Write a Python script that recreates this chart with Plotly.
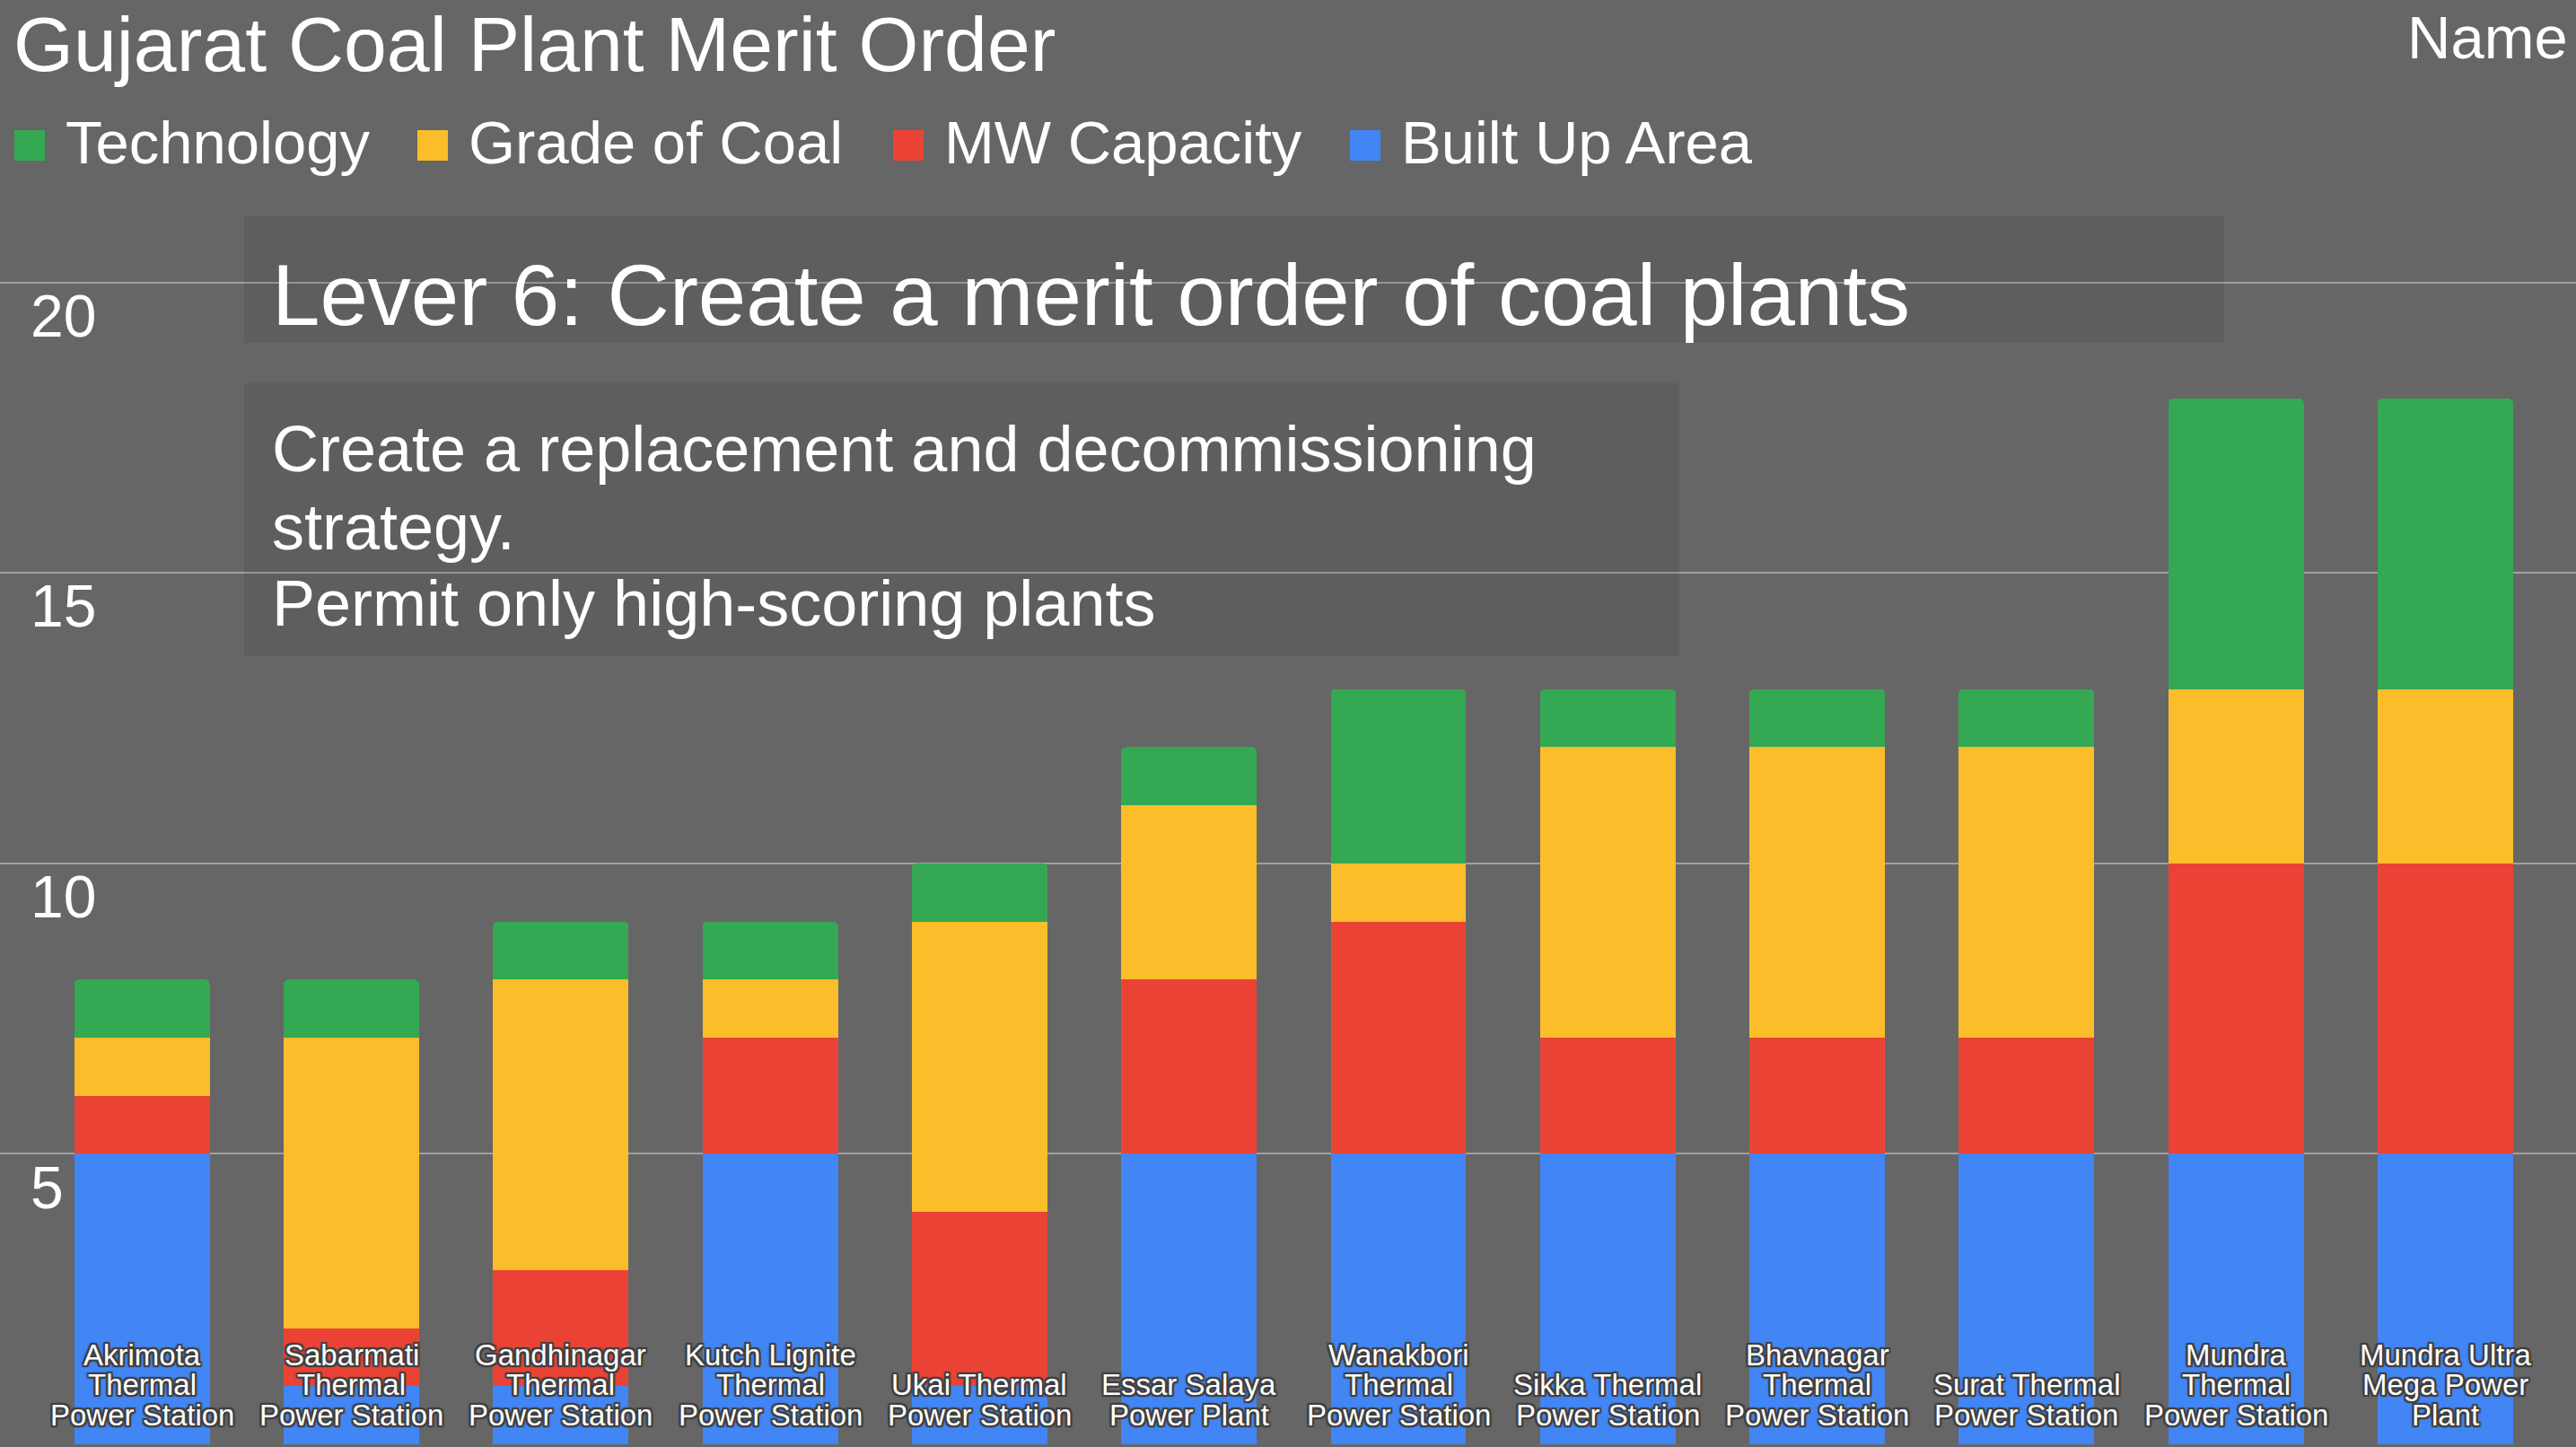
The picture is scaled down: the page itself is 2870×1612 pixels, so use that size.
import plotly.graph_objects as go

# ---------------- data ----------------
plants = [
    "Akrimota Thermal Power Station",
    "Sabarmati Thermal Power Station",
    "Gandhinagar Thermal Power Station",
    "Kutch Lignite Thermal Power Station",
    "Ukai Thermal Power Station",
    "Essar Salaya Power Plant",
    "Wanakbori Thermal Power Station",
    "Sikka Thermal Power Station",
    "Bhavnagar Thermal Power Station",
    "Surat Thermal Power Station",
    "Mundra Thermal Power Station",
    "Mundra Ultra Mega Power Plant",
]
plant_label_lines = [
    ["Akrimota", "Thermal", "Power Station"],
    ["Sabarmati", "Thermal", "Power Station"],
    ["Gandhinagar", "Thermal", "Power Station"],
    ["Kutch Lignite", "Thermal", "Power Station"],
    ["Ukai Thermal", "Power Station"],
    ["Essar Salaya", "Power Plant"],
    ["Wanakbori", "Thermal", "Power Station"],
    ["Sikka Thermal", "Power Station"],
    ["Bhavnagar", "Thermal", "Power Station"],
    ["Surat Thermal", "Power Station"],
    ["Mundra", "Thermal", "Power Station"],
    ["Mundra Ultra", "Mega Power", "Plant"],
]
built_up_area = [5, 1, 1, 5, 1, 5, 5, 5, 5, 5, 5, 5]
mw_capacity   = [1, 1, 2, 2, 3, 3, 4, 2, 2, 2, 5, 5]
grade_of_coal = [1, 5, 5, 1, 5, 3, 1, 5, 5, 5, 3, 3]
technology    = [1, 1, 1, 1, 1, 1, 3, 1, 1, 1, 5, 5]

series_names = ["Built Up Area", "MW Capacity", "Grade of Coal", "Technology"]
series_values = [built_up_area, mw_capacity, grade_of_coal, technology]
series_colors = ["#4285F4", "#EA4335", "#FBBD29", "#34A853"]

y_ticks = [5, 10, 15, 20]

title_text = "Gujarat Coal Plant Merit Order"
axis_name = "Name"
box1_text = "Lever 6: Create a merit order of coal plants"
box2_lines = ["Create a replacement and decommissioning", "strategy.",
              "Permit only high-scoring plants"]

# ---------------- layout constants ----------------
W, H = 2870, 1612
M_TOP = 240
PLOT_H = H - M_TOP
FONT = "Arial, Liberation Sans, Helvetica, sans-serif"
BG = "#666666"


def px_x(px):
    return px / W


def px_y(py):
    return (H - py) / PLOT_H


fig = go.Figure()
for name, vals, col in zip(series_names, series_values, series_colors):
    fig.add_trace(go.Bar(
        x=plants, y=vals, name=name,
        marker=dict(color=col, line=dict(width=0)),
        showlegend=False,
        hovertemplate="%{x}<br>" + name + ": %{y}<extra></extra>",
    ))

annotations = []
shapes = []

# category labels (one annotation per line for tight line spacing)
LABEL_SIZE = 33
LINE_STEP = 33.5
LAST_BASELINE = 1588
label_shadow = ("2px 0 1px #404040, -2px 0 1px #404040, 0 2px 1px #404040, "
                "0 -2px 1px #404040, 2px 2px 1px #404040, -2px -2px 1px #404040, "
                "2px -2px 1px #404040, -2px 2px 1px #404040")
for plant, lines in zip(plants, plant_label_lines):
    n = len(lines)
    for i, line in enumerate(lines):
        baseline = LAST_BASELINE - (n - 1 - i) * LINE_STEP
        annotations.append(dict(
            x=plant, xref="x", y=px_y(baseline - 0.35 * LABEL_SIZE), yref="paper",
            text=line, showarrow=False, xanchor="center", yanchor="middle",
            font=dict(family=FONT, size=LABEL_SIZE, color="white", shadow=label_shadow),
        ))

# custom legend (Technology, Grade of Coal, MW Capacity, Built Up Area)
LEG_SIZE = 67
leg_square_x = [16, 465, 995, 1504]
leg_text_gap = 22
for k, idx in enumerate([3, 2, 1, 0]):
    sx = leg_square_x[k]
    shapes.append(dict(
        type="rect", xref="paper", yref="paper",
        x0=px_x(sx), x1=px_x(sx + 34), y0=px_y(179), y1=px_y(145),
        fillcolor=series_colors[idx], line=dict(width=0), layer="above",
    ))
    annotations.append(dict(
        x=px_x(sx + 34 + leg_text_gap - 1), y=px_y(182 - 0.35 * LEG_SIZE),
        xref="paper", yref="paper", text=series_names[idx], showarrow=False,
        xanchor="left", yanchor="middle",
        font=dict(family=FONT, size=LEG_SIZE, color="white"),
    ))

# "Name" at top right
annotations.append(dict(
    x=px_x(2863), y=px_y(65 - 0.35 * LEG_SIZE), xref="paper", yref="paper",
    text=axis_name, showarrow=False, xanchor="right", yanchor="middle",
    font=dict(family=FONT, size=LEG_SIZE, color="white"),
))

# overlay boxes
box_fill = "rgba(0,0,0,0.07)"
shapes.append(dict(type="rect", xref="paper", yref="paper",
                   x0=px_x(272), x1=px_x(2478), y0=px_y(382), y1=px_y(241),
                   fillcolor=box_fill, line=dict(width=0), layer="above"))
shapes.append(dict(type="rect", xref="paper", yref="paper",
                   x0=px_x(272), x1=px_x(1871), y0=px_y(731), y1=px_y(427),
                   fillcolor=box_fill, line=dict(width=0), layer="above"))

annotations.append(dict(
    x=px_x(301), y=px_y(362 - 0.35 * 96), xref="paper", yref="paper",
    text=box1_text, showarrow=False, xanchor="left", yanchor="middle",
    font=dict(family=FONT, size=96, color="white"),
))
for line, baseline in zip(box2_lines, [525, 612, 697]):
    annotations.append(dict(
        x=px_x(301), y=px_y(baseline - 0.35 * 72), xref="paper", yref="paper",
        text=line, showarrow=False, xanchor="left", yanchor="middle",
        font=dict(family=FONT, size=72, color="white"),
    ))

# axis geometry: category centres at 158.2 px + 233.3 px steps
step = 233.3
first_c = 158.2
x_range = [-first_c / step, (W - first_c) / step]
unit = 65.0
y_zero_px = 1615
y_range = [-(y_zero_px - H) / unit, (y_zero_px - M_TOP) / unit]

fig.update_layout(
    width=W, height=H,
    barmode="stack", bargap=0.353, barcornerradius=5,
    paper_bgcolor=BG, plot_bgcolor=BG,
    margin=dict(l=0, r=0, t=M_TOP, b=0, pad=0),
    font=dict(family=FONT, color="white"),
    title=dict(
        text=title_text, x=px_x(15), xanchor="left", xref="container",
        y=(H - (79 - 0.35 * 86)) / H, yanchor="middle", yref="container",
        font=dict(family=FONT, size=86, color="white"),
    ),
    xaxis=dict(range=x_range, showticklabels=False, showgrid=False,
               zeroline=False, showline=False, ticks=""),
    yaxis=dict(range=y_range, tickvals=y_ticks, showgrid=True,
               gridcolor="#a0a0a0", gridwidth=1.5, zeroline=False, showline=False,
               ticks="", ticklabelposition="inside", ticklabelshift=37,
               ticklabelstandoff=31,
               tickfont=dict(family=FONT, size=66, color="white")),
    annotations=annotations,
    shapes=shapes,
)

fig.write_html(
    "out.html",
    config={"displayModeBar": False},
    post_script="document.body.style.margin='0';document.body.style.padding='0';"
                "document.body.style.background='#666666';",
)
